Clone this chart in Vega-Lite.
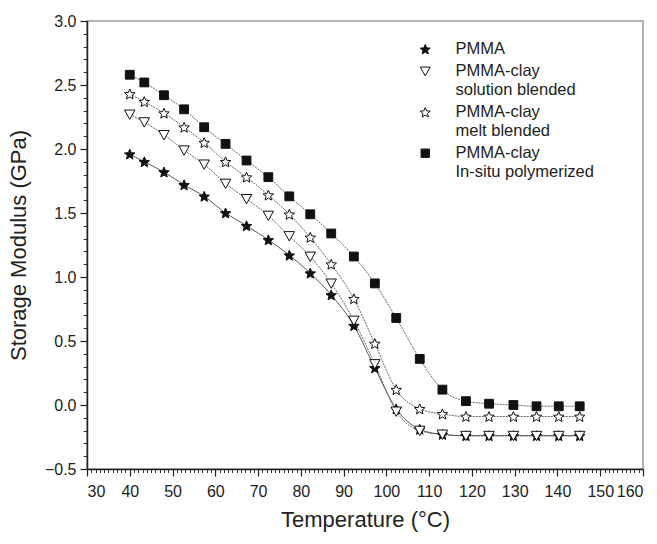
{
  "$schema": "https://vega.github.io/schema/vega-lite/v6.json",
  "width": 556,
  "height": 448,
  "autosize": "none",
  "padding": {"left": 87, "top": 21, "right": 14, "bottom": 75},
  "background": "white",
  "config": {
    "view": {"stroke": "#999", "strokeWidth": 1.5},
    "font": "Liberation Sans",
    "axis": {"grid": false, "labelFont": "Liberation Sans", "titleFont": "Liberation Sans", "labelColor": "#222", "titleColor": "#222", "titleFontWeight": "normal"}
  },
  "data": {"values": [
    {"T": 40, "v": 1.96, "s": "PMMA"}, {"T": 43.4, "v": 1.90, "s": "PMMA"}, {"T": 48, "v": 1.82, "s": "PMMA"}, {"T": 52.7, "v": 1.72, "s": "PMMA"}, {"T": 57.4, "v": 1.63, "s": "PMMA"}, {"T": 62.4, "v": 1.50, "s": "PMMA"}, {"T": 67.3, "v": 1.40, "s": "PMMA"}, {"T": 72.4, "v": 1.29, "s": "PMMA"}, {"T": 77.3, "v": 1.17, "s": "PMMA"}, {"T": 82.2, "v": 1.03, "s": "PMMA"}, {"T": 87.1, "v": 0.86, "s": "PMMA"}, {"T": 92.4, "v": 0.62, "s": "PMMA"}, {"T": 97.3, "v": 0.29, "s": "PMMA"}, {"T": 102.3, "v": -0.03, "s": "PMMA"}, {"T": 107.8, "v": -0.19, "s": "PMMA"}, {"T": 113.1, "v": -0.23, "s": "PMMA"}, {"T": 118.6, "v": -0.24, "s": "PMMA"}, {"T": 124, "v": -0.24, "s": "PMMA"}, {"T": 129.7, "v": -0.24, "s": "PMMA"}, {"T": 135.1, "v": -0.24, "s": "PMMA"}, {"T": 140.3, "v": -0.24, "s": "PMMA"}, {"T": 145.2, "v": -0.24, "s": "PMMA"},
    {"T": 40, "v": 2.27, "s": "PMMA-clay solution blended"}, {"T": 43.4, "v": 2.21, "s": "PMMA-clay solution blended"}, {"T": 48, "v": 2.11, "s": "PMMA-clay solution blended"}, {"T": 52.7, "v": 1.99, "s": "PMMA-clay solution blended"}, {"T": 57.4, "v": 1.88, "s": "PMMA-clay solution blended"}, {"T": 62.4, "v": 1.73, "s": "PMMA-clay solution blended"}, {"T": 67.3, "v": 1.61, "s": "PMMA-clay solution blended"}, {"T": 72.4, "v": 1.48, "s": "PMMA-clay solution blended"}, {"T": 77.3, "v": 1.32, "s": "PMMA-clay solution blended"}, {"T": 82.2, "v": 1.16, "s": "PMMA-clay solution blended"}, {"T": 87.1, "v": 0.95, "s": "PMMA-clay solution blended"}, {"T": 92.4, "v": 0.66, "s": "PMMA-clay solution blended"}, {"T": 97.3, "v": 0.32, "s": "PMMA-clay solution blended"}, {"T": 102.3, "v": -0.05, "s": "PMMA-clay solution blended"}, {"T": 107.8, "v": -0.20, "s": "PMMA-clay solution blended"}, {"T": 113.1, "v": -0.23, "s": "PMMA-clay solution blended"}, {"T": 118.6, "v": -0.24, "s": "PMMA-clay solution blended"}, {"T": 124, "v": -0.24, "s": "PMMA-clay solution blended"}, {"T": 129.7, "v": -0.24, "s": "PMMA-clay solution blended"}, {"T": 135.1, "v": -0.24, "s": "PMMA-clay solution blended"}, {"T": 140.3, "v": -0.24, "s": "PMMA-clay solution blended"}, {"T": 145.2, "v": -0.24, "s": "PMMA-clay solution blended"},
    {"T": 40, "v": 2.43, "s": "PMMA-clay melt blended"}, {"T": 43.4, "v": 2.37, "s": "PMMA-clay melt blended"}, {"T": 48, "v": 2.28, "s": "PMMA-clay melt blended"}, {"T": 52.7, "v": 2.17, "s": "PMMA-clay melt blended"}, {"T": 57.4, "v": 2.05, "s": "PMMA-clay melt blended"}, {"T": 62.4, "v": 1.90, "s": "PMMA-clay melt blended"}, {"T": 67.3, "v": 1.78, "s": "PMMA-clay melt blended"}, {"T": 72.4, "v": 1.64, "s": "PMMA-clay melt blended"}, {"T": 77.3, "v": 1.49, "s": "PMMA-clay melt blended"}, {"T": 82.2, "v": 1.31, "s": "PMMA-clay melt blended"}, {"T": 87.1, "v": 1.10, "s": "PMMA-clay melt blended"}, {"T": 92.4, "v": 0.83, "s": "PMMA-clay melt blended"}, {"T": 97.3, "v": 0.48, "s": "PMMA-clay melt blended"}, {"T": 102.3, "v": 0.12, "s": "PMMA-clay melt blended"}, {"T": 107.8, "v": -0.03, "s": "PMMA-clay melt blended"}, {"T": 113.1, "v": -0.07, "s": "PMMA-clay melt blended"}, {"T": 118.6, "v": -0.09, "s": "PMMA-clay melt blended"}, {"T": 124, "v": -0.09, "s": "PMMA-clay melt blended"}, {"T": 129.7, "v": -0.09, "s": "PMMA-clay melt blended"}, {"T": 135.1, "v": -0.09, "s": "PMMA-clay melt blended"}, {"T": 140.3, "v": -0.09, "s": "PMMA-clay melt blended"}, {"T": 145.2, "v": -0.09, "s": "PMMA-clay melt blended"},
    {"T": 40, "v": 2.58, "s": "PMMA-clay In-situ polymerized"}, {"T": 43.4, "v": 2.52, "s": "PMMA-clay In-situ polymerized"}, {"T": 48, "v": 2.42, "s": "PMMA-clay In-situ polymerized"}, {"T": 52.7, "v": 2.31, "s": "PMMA-clay In-situ polymerized"}, {"T": 57.4, "v": 2.17, "s": "PMMA-clay In-situ polymerized"}, {"T": 62.4, "v": 2.04, "s": "PMMA-clay In-situ polymerized"}, {"T": 67.3, "v": 1.91, "s": "PMMA-clay In-situ polymerized"}, {"T": 72.4, "v": 1.78, "s": "PMMA-clay In-situ polymerized"}, {"T": 77.3, "v": 1.63, "s": "PMMA-clay In-situ polymerized"}, {"T": 82.2, "v": 1.49, "s": "PMMA-clay In-situ polymerized"}, {"T": 87.1, "v": 1.34, "s": "PMMA-clay In-situ polymerized"}, {"T": 92.4, "v": 1.16, "s": "PMMA-clay In-situ polymerized"}, {"T": 97.3, "v": 0.95, "s": "PMMA-clay In-situ polymerized"}, {"T": 102.3, "v": 0.68, "s": "PMMA-clay In-situ polymerized"}, {"T": 107.8, "v": 0.36, "s": "PMMA-clay In-situ polymerized"}, {"T": 113.1, "v": 0.12, "s": "PMMA-clay In-situ polymerized"}, {"T": 118.6, "v": 0.03, "s": "PMMA-clay In-situ polymerized"}, {"T": 124, "v": 0.01, "s": "PMMA-clay In-situ polymerized"}, {"T": 129.7, "v": 0.0, "s": "PMMA-clay In-situ polymerized"}, {"T": 135.1, "v": -0.01, "s": "PMMA-clay In-situ polymerized"}, {"T": 140.3, "v": -0.01, "s": "PMMA-clay In-situ polymerized"}, {"T": 145.2, "v": -0.01, "s": "PMMA-clay In-situ polymerized"}
  ]},
  "layer": [
    {
      "transform": [{"filter": "datum.s == 'PMMA'"}],
      "mark": {"type": "line", "interpolate": "monotone", "stroke": "#444", "strokeWidth": 0.9},
      "encoding": {
        "x": {"field": "T", "type": "quantitative", "scale": {"domain": [30, 160], "nice": false, "zero": false},
          "axis": {"orient": "bottom", "values": [30,31,32,33,34,35,36,37,38,39,40,41,42,43,44,45,46,47,48,49,50,51,52,53,54,55,56,57,58,59,60,61,62,63,64,65,66,67,68,69,70,71,72,73,74,75,76,77,78,79,80,81,82,83,84,85,86,87,88,89,90,91,92,93,94,95,96,97,98,99,100,101,102,103,104,105,106,107,108,109,110,111,112,113,114,115,116,117,118,119,120,121,122,123,124,125,126,127,128,129,130,131,132,133,134,135,136,137,138,139,140,141,142,143,144,145,146,147,148,149,150,151,152,153,154,155,156,157,158,159,160], "labels": false, "domain": false, "tickSize": 3.5, "tickColor": "#333", "tickWidth": 1, "title": null}},
        "y": {"field": "v", "type": "quantitative", "scale": {"domain": [-0.5, 3.0], "nice": false, "zero": false},
          "axis": {"orient": "left", "values": [-0.5,-0.4,-0.3,-0.2,-0.1,0,0.1,0.2,0.3,0.4,0.5,0.6,0.7,0.8,0.9,1.0,1.1,1.2,1.3,1.4,1.5,1.6,1.7,1.8,1.9,2.0,2.1,2.2,2.3,2.4,2.5,2.6,2.7,2.8,2.9,3.0], "labels": false, "domain": false, "tickSize": 4, "tickColor": "#333", "tickWidth": 1, "title": null}}
      }
    },
    {
      "transform": [{"filter": "datum.s != 'PMMA'"}],
      "mark": {"type": "line", "interpolate": "monotone", "stroke": "#555", "strokeWidth": 0.9, "strokeDash": [2, 1]},
      "encoding": {
        "x": {"field": "T", "type": "quantitative", "axis": null},
        "y": {"field": "v", "type": "quantitative", "axis": null},
        "detail": {"field": "s"}
      }
    },
    {
      "mark": {"type": "point", "filled": true, "size": 121, "strokeWidth": 1, "opacity": 1},
      "encoding": {
        "x": {"field": "T", "type": "quantitative",
          "axis": {"orient": "bottom", "values": [30,40,50,60,70,80,90,100,110,120,130,140,150,160], "tickSize": 7, "tickWidth": 1.2, "tickColor": "#222", "domainColor": "#222", "domainWidth": 1.5, "labelFontSize": 16, "labelPadding": 7, "title": "Temperature (°C)", "titleFontSize": 22, "titlePadding": 10}},
        "y": {"field": "v", "type": "quantitative",
          "axis": {"orient": "left", "values": [-0.5,0,0.5,1,1.5,2,2.5,3], "format": ".1f", "tickSize": 7, "tickWidth": 1.2, "tickColor": "#222", "domainColor": "#222", "domainWidth": 1.5, "labelFontSize": 16, "labelPadding": 4, "title": "Storage Modulus (GPa)", "titleFontSize": 22, "titlePadding": 14}},
        "shape": {"field": "s", "type": "nominal",
          "scale": {"domain": ["PMMA", "PMMA-clay solution blended", "PMMA-clay melt blended", "PMMA-clay In-situ polymerized"],
            "range": ["M0,-0.905L0.265,-0.269L0.951,-0.214L0.428,0.234L0.588,0.904L0,0.545L-0.588,0.904L-0.428,0.234L-0.951,-0.214L-0.265,-0.269Z", "M-0.95,-0.8L0.95,-0.8L0,0.9Z", "M0,-0.905L0.265,-0.269L0.951,-0.214L0.428,0.234L0.588,0.904L0,0.545L-0.588,0.904L-0.428,0.234L-0.951,-0.214L-0.265,-0.269Z", "M-0.8,-0.8H0.8V0.8H-0.8Z"]},
          "legend": {
            "title": null, "orient": "none", "legendX": 330, "legendY": 20, "padding": 0,
            "symbolSize": 110, "symbolStrokeWidth": 1, "symbolOpacity": 1,
            "labelOffset": 22, "labelFontSize": 16.5, "labelFont": "Liberation Sans", "labelColor": "#222", "rowPadding": 5,
            "labelExpr": "datum.label == 'PMMA' ? 'PMMA' : ['PMMA-clay', replace(datum.label, 'PMMA-clay ', '')]",
            "encode": {
              "labels": {
                "lineHeight": {"value": 22.5},
                "dy": {"value": {"expr": "datum.value == 'PMMA' ? 0 : 11.25"}}
              }
            }
          }},
        "fill": {"field": "s", "type": "nominal",
          "scale": {"domain": ["PMMA", "PMMA-clay solution blended", "PMMA-clay melt blended", "PMMA-clay In-situ polymerized"], "range": ["#111", "white", "white", "#111"]}},
        "stroke": {"field": "s", "type": "nominal",
          "scale": {"domain": ["PMMA", "PMMA-clay solution blended", "PMMA-clay melt blended", "PMMA-clay In-situ polymerized"], "range": ["#111", "#111", "#111", "#111"]}}
      }
    }
  ],
  "resolve": {"axis": {"x": "independent", "y": "independent"}}
}
